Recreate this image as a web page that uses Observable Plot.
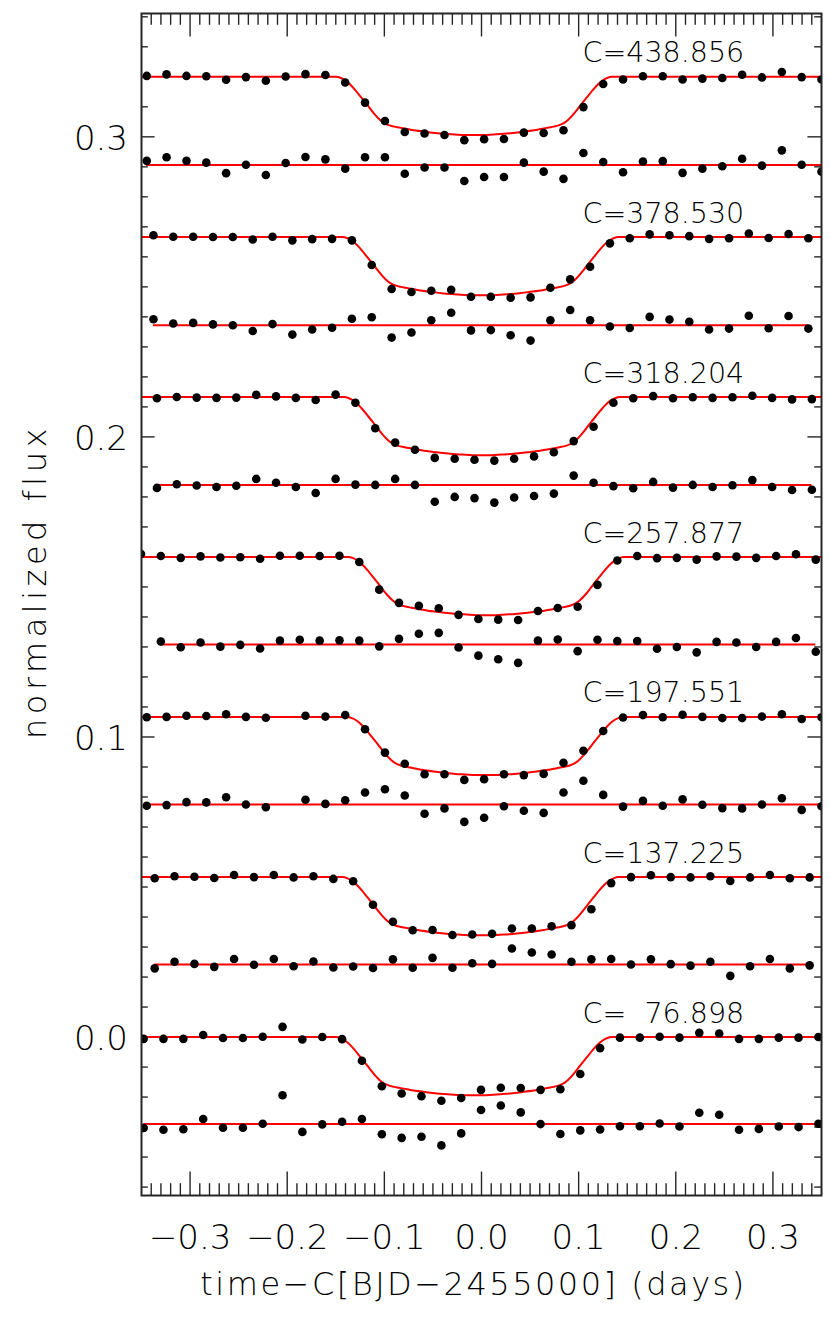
<!DOCTYPE html>
<html><head><meta charset="utf-8">
<script src="https://cdn.jsdelivr.net/npm/d3@7"></script>
<script src="https://cdn.jsdelivr.net/npm/@observablehq/plot@0.6"></script>
<style>
html,body{margin:0;padding:0;background:#fff;}
#chart{width:830px;height:1329px;}
</style></head><body><div id="chart"></div>
<script>
// ---- data ----
const labels = ["C=438.856","C=378.530","C=318.204","C=257.877","C=197.551","C=137.225","C=\u200776.898"];
const offsets = [0.3200, 0.2666, 0.2133, 0.1600, 0.1067, 0.0533, 0.0000];      // model baseline per transit
const residOffsets = [0.2906, 0.2372, 0.1840, 0.1308, 0.0775, 0.0242, -0.0290]; // residual baseline
const modelShift = [-0.0077, -0.0010, 0.0005, 0.0048, 0.0037, -0.0010, -0.0080];

// transit model profile (|time|, depth)
const profileT = [0, 0.01, 0.02, 0.03, 0.04, 0.05, 0.06, 0.067, 0.077, 0.082, 0.087, 0.092, 0.097, 0.102, 0.107, 0.112, 0.117, 0.122, 0.127, 0.132, 0.137, 0.142, 0.37];
const profileDepth = [0.0194, 0.0194, 0.0192, 0.0190, 0.0187, 0.0183, 0.0179, 0.0175, 0.0169, 0.0166, 0.0162, 0.0155, 0.0143, 0.0126, 0.0106, 0.0085, 0.0065, 0.0045, 0.0027, 0.0013, 0.0004, 0, 0];

const t1 = [-0.3446,-0.3242,-0.3037,-0.2833,-0.2629,-0.2425,-0.2220,-0.2016,-0.1812,-0.1607,-0.1403,-0.1199,-0.0994,-0.0790,-0.0586,-0.0381,-0.0177,0.0027,0.0231,0.0436,0.0640,0.0844,0.1049,0.1253,0.1457,0.1662,0.1866,0.2070,0.2274,0.2479,0.2683,0.2887,0.3092,0.3296,0.3500];
const f1 = [0.0003,0.0008,0.0003,0.0002,-0.0010,-0.0001,-0.0013,0.0001,0.0009,0.0006,-0.0019,-0.0086,-0.0147,-0.0184,-0.0189,-0.0194,-0.0211,-0.0208,-0.0207,-0.0186,-0.0187,-0.0178,-0.0101,-0.0024,-0.0009,0.0002,0.0002,-0.0009,-0.0006,-0.0004,0.0007,-0.0002,0.0016,-0.0001,-0.0009];
const r1 = [0.0014,0.0026,0.0014,0.0008,-0.0027,0.0001,-0.0033,0.0007,0.0027,0.0019,-0.0012,0.0026,0.0026,-0.0029,-0.0008,-0.0008,-0.0053,-0.0040,-0.0040,0.0008,-0.0022,-0.0046,0.0040,0.0010,-0.0024,0.0012,0.0013,-0.0026,-0.0012,-0.0004,0.0021,-0.0002,0.0049,0.0001,-0.0022];

const t2 = [-0.3377,-0.3173,-0.2968,-0.2764,-0.2560,-0.2355,-0.2151,-0.1947,-0.1743,-0.1538,-0.1334,-0.1130,-0.0925,-0.0721,-0.0517,-0.0312,-0.0108,0.0096,0.0300,0.0505,0.0709,0.0913,0.1118,0.1322,0.1526,0.1731,0.1935,0.2139,0.2343,0.2548,0.2752,0.2956,0.3161,0.3365];
const f2 = [0.0006,0.0001,0.0001,0,0,-0.0008,0.0001,-0.0011,-0.0007,-0.0006,-0.0011,-0.0093,-0.0173,-0.0183,-0.0179,-0.0176,-0.0199,-0.0199,-0.0202,-0.0201,-0.0169,-0.0141,-0.0099,-0.0021,-0.0004,0.0009,0.0006,0.0003,-0.0006,-0.0004,0.0012,-0.0003,0.0010,-0.0004];
const r2 = [0.0020,0.0006,0.0008,0.0003,0,-0.0019,0.0004,-0.0031,-0.0014,-0.0008,0.0022,0.0027,-0.0041,-0.0024,0.0017,0.0042,-0.0017,-0.0016,-0.0033,-0.0051,0.0017,0.0051,0.0017,-0.0004,-0.0009,0.0028,0.0019,0.0012,-0.0014,-0.0011,0.0032,-0.0010,0.0031,-0.0011];

const t3 = [-0.3341,-0.3137,-0.2932,-0.2728,-0.2524,-0.2319,-0.2115,-0.1911,-0.1707,-0.1502,-0.1298,-0.1094,-0.0889,-0.0685,-0.0481,-0.0276,-0.0072,0.0132,0.0336,0.0541,0.0745,0.0949,0.1154,0.1358,0.1562,0.1767,0.1971,0.2175,0.2379,0.2584,0.2788,0.2992,0.3197,0.3401];
const f3 = [-0.0004,0,-0.0002,-0.0003,-0.0002,0.0007,0.0002,-0.0003,-0.0010,0.0008,-0.0019,-0.0104,-0.0152,-0.0176,-0.0203,-0.0206,-0.0209,-0.0212,-0.0206,-0.0198,-0.0184,-0.0147,-0.0099,-0.0019,-0.0004,0.0003,-0.0004,-0.0001,-0.0003,-0.0001,0.0004,-0.0003,-0.0008,-0.0007];
const r3 = [-0.0010,0.0002,-0.0002,-0.0007,-0.0003,0.0020,0.0007,-0.0007,-0.0027,0.0020,0.0001,0,0.0020,0,-0.0056,-0.0040,-0.0044,-0.0059,-0.0042,-0.0037,-0.0029,0.0031,0.0007,-0.0004,-0.0011,0.0010,-0.0009,0,-0.0007,-0.0001,0.0016,-0.0007,-0.0017,-0.0016];

const t4 = [-0.3505,-0.3301,-0.3096,-0.2892,-0.2688,-0.2483,-0.2279,-0.2075,-0.1871,-0.1666,-0.1462,-0.1258,-0.1053,-0.0849,-0.0645,-0.0440,-0.0236,-0.0032,0.0172,0.0377,0.0581,0.0785,0.0990,0.1194,0.1398,0.1603,0.1807,0.2011,0.2215,0.2420,0.2624,0.2828,0.3033,0.3237,0.3441];
const f4 = [0.0010,0.0003,-0.0003,0.0002,-0.0002,-0.0001,-0.0006,0.0004,0.0004,0.0003,0.0004,-0.0017,-0.0109,-0.0153,-0.0163,-0.0171,-0.0193,-0.0207,-0.0209,-0.0210,-0.0180,-0.0170,-0.0166,-0.0093,-0.0012,0.0003,-0.0004,-0.0003,-0.0009,0.0002,0.0001,-0.0003,0.0003,0.0009,-0.0009];
const r4 = [null,0.0010,-0.0009,0.0007,-0.0007,-0.0001,-0.0013,0.0013,0.0016,0.0013,0.0014,0.0013,-0.0006,0.0019,0.0036,0.0039,-0.0010,-0.0037,-0.0049,-0.0061,0.0013,0.0017,-0.0022,0.0016,0.0012,0.0012,-0.0014,-0.0008,-0.0026,0.0009,0.0007,-0.0008,0.0009,0.0022,-0.0024];

const t5 = [-0.3446,-0.3242,-0.3037,-0.2833,-0.2629,-0.2425,-0.2220,-0.2016,-0.1812,-0.1607,-0.1403,-0.1199,-0.0994,-0.0790,-0.0586,-0.0381,-0.0177,0.0027,0.0231,0.0436,0.0640,0.0844,0.1049,0.1253,0.1457,0.1662,0.1866,0.2070,0.2274,0.2479,0.2683,0.2887,0.3092,0.3296,0.3500];
const f5 = [-0.0001,0,0.0004,0.0003,0.0009,0,-0.0003,null,0.0004,0.0001,0.0006,-0.0041,-0.0119,-0.0156,-0.0191,-0.0191,-0.0210,-0.0208,-0.0191,-0.0194,-0.0190,-0.0153,-0.0113,-0.0047,-0.0002,0.0006,-0.0001,0.0007,0,-0.0004,-0.0004,0.0001,0.0009,-0.0007,-0.0001];
const r5 = [-0.0004,-0.0002,0.0008,0.0007,0.0024,0,-0.0009,null,0.0016,0.0002,0.0014,0.0040,0.0051,0.0030,-0.0031,-0.0013,-0.0058,-0.0044,-0.0006,-0.0021,-0.0028,0.0040,0.0079,0.0032,-0.0007,0.0012,-0.0004,0.0017,-0.0001,-0.0012,-0.0013,0,0.0021,-0.0018,-0.0006];

const t6 = [-0.3364,-0.3160,-0.2955,-0.2751,-0.2547,-0.2342,-0.2138,-0.1934,-0.1730,-0.1525,-0.1321,-0.1117,-0.0912,-0.0708,-0.0504,-0.0299,-0.0095,0.0109,0.0313,0.0518,0.0722,0.0926,0.1131,0.1335,0.1539,0.1744,0.1948,0.2152,0.2356,0.2561,0.2765,0.2969,0.3174,0.3378];
const f6 = [-0.0004,0.0003,0.0001,-0.0003,0.0007,0,0.0007,-0.0001,0.0003,-0.0006,-0.0014,-0.0092,-0.0149,-0.0177,-0.0176,-0.0193,-0.0191,-0.0189,-0.0171,-0.0171,-0.0164,-0.0160,-0.0107,-0.0020,0,0.0006,0,-0.0001,0.0003,-0.0013,-0.0001,0.0007,-0.0004,-0.0001];
const r6 = [-0.0013,0.0009,0.0002,-0.0008,0.0018,-0.0001,0.0018,-0.0006,0.0010,-0.0010,-0.0007,-0.0012,0.0017,-0.0011,0.0022,-0.0011,0.0004,0.0002,0.0053,0.0040,0.0033,0.0009,0.0017,0.0018,0,0.0017,0.0001,-0.0004,0.0009,-0.0038,-0.0006,0.0018,-0.0013,-0.0003];

const t7 = [-0.3478,-0.3274,-0.3069,-0.2865,-0.2661,-0.2456,-0.2252,-0.2048,-0.1844,-0.1639,-0.1435,-0.1231,-0.1026,-0.0822,-0.0618,-0.0413,-0.0209,-0.0005,0.0199,0.0404,0.0608,0.0812,0.1017,0.1221,0.1425,0.1630,0.1834,0.2038,0.2242,0.2447,0.2651,0.2855,0.3060,0.3264,0.3468];
const f7 = [-0.0006,-0.0006,-0.0006,0.0007,-0.0003,-0.0003,0.0001,0.0034,-0.0008,0,-0.0007,-0.0079,-0.0164,-0.0188,-0.0197,-0.0212,-0.0203,-0.0176,-0.0169,-0.0170,-0.0176,-0.0174,-0.0123,-0.0037,-0.0002,-0.0002,0.0001,-0.0002,0.0014,0.0012,-0.0006,-0.0006,-0.0002,-0.0002,0];
const r7 = [-0.0013,-0.0019,-0.0017,0.0017,-0.0012,-0.0012,0.0001,0.0096,-0.0026,-0.0001,0.0008,0.0017,-0.0034,-0.0046,-0.0042,-0.0071,-0.0031,0.0047,0.0062,0.0039,0,-0.0033,-0.0021,-0.0018,-0.0007,-0.0007,0.0002,-0.0008,0.0038,0.0031,-0.0019,-0.0016,-0.0008,-0.0010,0.0001];

const xMajorTicks = [-0.3, -0.2, -0.1, 0.0, 0.1, 0.2, 0.3];
const yMajorTicks = [0.0, 0.1, 0.2, 0.3];
const xTitle = "time\u2212C[BJD\u22122455000] (days)";
const yTitle = "normalized flux";

// ---- layout ----
const W = 830, H = 1329, mT = 13, mB = 134, mL = 141, mR = 9;
const frameW = W - mL - mR, frameH = H - mT - mB;

const times = [t1, t2, t3, t4, t5, t6, t7];
const fluxes = [f1, f2, f3, f4, f5, f6, f7];
const resids = [r1, r2, r3, r4, r5, r6, r7];

const dots = [], modelRows = [], residLines = [], labelRows = [];
times.forEach((ts, k) => {
  ts.forEach((t, i) => {
    if (fluxes[k][i] != null) dots.push({t, y: offsets[k] + fluxes[k][i]});
    if (resids[k][i] != null) dots.push({t, y: residOffsets[k] + resids[k][i]});
  });
  const rt = ts.filter((t, i) => resids[k][i] != null);
  residLines.push({x1: d3.min(rt), x2: d3.max(rt), y: residOffsets[k]});
  for (let i = profileT.length - 1; i > 0; i--) modelRows.push({k, t: -profileT[i] + modelShift[k], y: offsets[k] - profileDepth[i]});
  for (let i = 0; i < profileT.length; i++) modelRows.push({k, t: profileT[i] + modelShift[k], y: offsets[k] - profileDepth[i]});
  labelRows.push({x: 0.104, y: offsets[k] + 0.0048, text: labels[k]});
});

const xMinor = d3.range(-34, 35).map(i => i / 100).filter(v => Math.abs(Math.round(v * 10) - v * 10) > 1e-6);
const yMinor = d3.range(-5, 35).map(i => i / 100).filter(v => Math.abs(Math.round(v * 10) - v * 10) > 1e-6);
const fmt = d => (d < 0 ? "\u2212" : "") + Math.abs(d).toFixed(1);

const axisColor = "#262626";
const font = "'DejaVu Sans', sans-serif";

const chart = Plot.plot({
  width: W, height: H,
  marginTop: mT, marginBottom: mB, marginLeft: mL, marginRight: mR,
  x: {domain: [-0.35, 0.35], axis: null},
  y: {domain: [-0.0528, 0.3411], axis: null},
  style: {fontFamily: font, background: "#fff", color: "#000"},
  marks: [
    // ticks (inward, all four sides)
    Plot.ruleX(xMajorTicks, {x: d => d, insetTop: frameH - 23.5, stroke: axisColor, strokeWidth: 1.4}),
    Plot.ruleX(xMajorTicks, {x: d => d, insetBottom: frameH - 23.5, stroke: axisColor, strokeWidth: 1.4}),
    Plot.ruleX(xMinor, {x: d => d, insetTop: frameH - 11.8, stroke: axisColor, strokeWidth: 1.4}),
    Plot.ruleX(xMinor, {x: d => d, insetBottom: frameH - 11.8, stroke: axisColor, strokeWidth: 1.4}),
    Plot.ruleY(yMajorTicks, {y: d => d, insetRight: frameW - 13.6, stroke: axisColor, strokeWidth: 1.4}),
    Plot.ruleY(yMajorTicks, {y: d => d, insetLeft: frameW - 13.6, stroke: axisColor, strokeWidth: 1.4}),
    Plot.ruleY(yMinor, {y: d => d, insetRight: frameW - 6.8, stroke: axisColor, strokeWidth: 1.4}),
    Plot.ruleY(yMinor, {y: d => d, insetLeft: frameW - 6.8, stroke: axisColor, strokeWidth: 1.4}),
    // model curves and residual baselines
    Plot.line(modelRows, {x: "t", y: "y", z: "k", stroke: "#ff0000", strokeWidth: 2, curve: "monotone-x", clip: true}),
    Plot.ruleY(residLines, {y: "y", x1: "x1", x2: "x2", stroke: "#ff0000", strokeWidth: 2, clip: true}),
    // data points
    Plot.dot(dots, {x: "t", y: "y", r: 4.3, fill: "#000", stroke: "none", clip: true}),
    // transit labels
    Plot.text(labelRows, {x: "x", y: "y", text: "text", textAnchor: "start", lineAnchor: "bottom", fontSize: 28.5, fill: "#000"}),
    // frame
    Plot.frame({stroke: axisColor, strokeWidth: 2}),
    // tick labels
    Plot.text(xMajorTicks, {x: d => d, frameAnchor: "bottom", dy: 53, textAnchor: "middle", lineAnchor: "bottom", text: fmt, fontSize: 34, fill: "#000"}),
    Plot.text(yMajorTicks, {y: d => d, frameAnchor: "left", dx: -13.5, dy: 2, textAnchor: "end", lineAnchor: "middle", text: fmt, fontSize: 34, fill: "#000"}),
    // axis titles
    Plot.text([xTitle], {frameAnchor: "bottom", dx: -8, dy: 99, textAnchor: "middle", lineAnchor: "bottom", fontSize: 32, fill: "#000"}),
    Plot.text([yTitle], {frameAnchor: "left", dx: -96, dy: -23, rotate: -90, textAnchor: "middle", lineAnchor: "bottom", fontSize: 32, fill: "#000"})
  ]
});
d3.select(chart).selectAll("text").attr("font-weight", 200);
d3.select(chart).selectAll("text").filter(function(){ return this.textContent === xTitle; }).attr("letter-spacing", 2.5);
d3.select(chart).selectAll("text").filter(function(){ return this.textContent === yTitle; }).attr("letter-spacing", 4.5);
document.getElementById("chart").appendChild(chart);
</script>
</body></html>
